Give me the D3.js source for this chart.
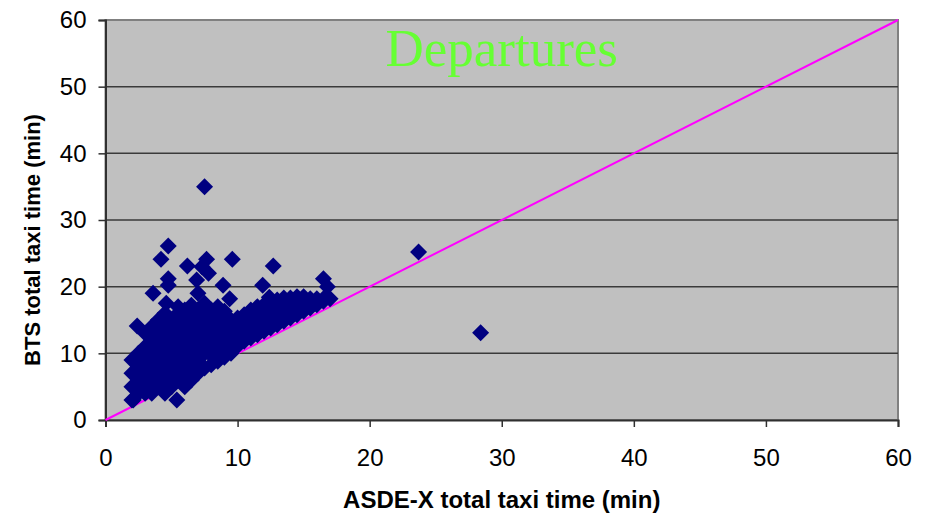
<!DOCTYPE html>
<html>
<head>
<meta charset="utf-8">
<script src="https://cdn.jsdelivr.net/npm/d3@7"></script>
<style>
  body { margin: 0; background: #fff; }
  text { font-family: "Liberation Sans", Arial, sans-serif; }
</style>
</head>
<body>
<svg></svg>
<script>
// tick values for both axes
const ticks = [0, 10, 20, 30, 40, 50, 60]

// the y = x reference line
const diagonal = [[0, 0], [60, 60]]

// dense band of departures [ASDE-X min, BTS min]
const band = [
  [2.0, 3], [2.0, 5], [2.0, 7], [2.0, 9],
  [2.5, 4], [2.5, 6], [2.5, 8], [2.5, 10],
  [3.0, 4], [3.0, 5], [3.0, 7], [3.0, 9], [3.0, 11], [3.0, 13],
  [3.5, 4], [3.5, 6], [3.5, 8], [3.5, 10], [3.5, 12], [3.5, 14],
  [4.0, 5], [4.0, 7], [4.0, 9], [4.0, 11], [4.0, 13], [4.0, 15],
  [4.5, 4], [4.5, 6], [4.5, 8], [4.5, 10], [4.5, 12], [4.5, 14], [4.5, 16],
  [5.0, 5], [5.0, 7], [5.0, 9], [5.0, 11], [5.0, 13], [5.0, 15],
  [5.5, 6], [5.5, 8], [5.5, 10], [5.5, 12], [5.5, 14], [5.5, 16], [5.5, 17],
  [6.0, 5], [6.0, 7], [6.0, 9], [6.0, 11], [6.0, 13], [6.0, 15], [6.0, 16.5],
  [6.5, 6], [6.5, 8], [6.5, 10], [6.5, 12], [6.5, 14], [6.5, 16],
  [7.0, 7], [7.0, 9], [7.0, 11], [7.0, 13], [7.0, 15], [7.0, 16.5],
  [7.5, 7.8], [7.5, 10], [7.5, 12], [7.5, 14], [7.5, 16], [7.5, 17.5],
  [8.0, 8.3], [8.0, 9.7], [8.0, 11], [8.0, 13], [8.0, 15], [8.0, 16.5],
  [8.5, 8.8], [8.5, 10], [8.5, 12], [8.5, 14], [8.5, 16], [8.5, 17],
  [9.0, 9.4], [9.0, 11], [9.0, 13], [9.0, 15], [9.0, 16.3],
  [9.5, 10], [9.5, 12], [9.5, 14], [9.5, 15],
  [10.0, 11.1], [10.0, 12.8], [10.0, 14.3], [10.0, 15.3],
  [10.5, 11.8], [10.5, 13.3], [10.5, 14.8], [10.5, 15.8],
  [11.0, 12.3], [11.0, 13.8], [11.0, 15.3], [11.0, 16.5],
  [11.5, 12.8], [11.5, 14.3], [11.5, 15.8], [11.5, 17],
  [12.0, 13.3], [12.0, 14.8], [12.0, 16.3], [12.0, 17.3],
  [12.5, 13.8], [12.5, 15.3], [12.5, 16.8], [12.5, 17.5],
  [13.0, 14.3], [13.0, 15.8], [13.0, 17.3], [13.0, 18],
  [13.5, 14.8], [13.5, 16.3], [13.5, 17.8], [13.5, 18.3],
  [14.0, 15.3], [14.0, 16.8], [14.0, 18.3],
  [14.5, 15.8], [14.5, 17.3], [14.5, 18.5],
  [15.0, 16.3], [15.0, 17.8], [15.0, 18.5],
  [15.5, 16.8], [15.5, 18.2],
  [16.0, 17.3], [16.0, 18.2],
  [16.5, 17.8], [16.5, 18.2],
  [17.0, 18.2]
]

// scattered points above / away from the band
const scattered = [
  [7.5, 35], [23.7, 25.2], [28.4, 13.1],
  [4.75, 26.1], [4.2, 24.1], [6.2, 23.1], [7.3, 23], [7.65, 24.1], [7.8, 22],
  [9.6, 24.1], [12.7, 23.1], [4.75, 21.2], [4.75, 20.2], [6.9, 21], [3.6, 19],
  [7.0, 19], [8.9, 20.2], [9.4, 18.2], [11.9, 20.2], [12.4, 18.4],
  [16.5, 21.2], [16.8, 20], [6.5, 17.2], [4.6, 17.5], [2.4, 14.1],
  [5.4, 3], [2.1, 3]
]

const points = band.concat(scattered)

const svg = d3.select("svg")
    .attr("width", 926)
    .attr("height", 517)

const plotLeft = 105.5, plotRight = 898, plotTop = 20, plotBottom = 420

const scaleX = d3.scaleLinear().domain([0, 60]).range([plotLeft, plotRight])
const scaleY = d3.scaleLinear().domain([0, 60]).range([plotBottom, plotTop])

// plot area
svg.append("rect")
    .attr("x", plotLeft)
    .attr("y", plotTop)
    .attr("width", plotRight - plotLeft)
    .attr("height", plotBottom - plotTop)
    .attr("fill", "#c0c0c0")
    .attr("stroke", "#808080")
    .attr("stroke-width", 2)

// horizontal gridlines
svg.selectAll("line.grid")
    .data(ticks.slice(1, -1))
    .enter()
    .append("line")
    .attr("class", "grid")
    .attr("x1", plotLeft)
    .attr("x2", plotRight)
    .attr("y1", d => scaleY(d))
    .attr("y2", d => scaleY(d))
    .attr("stroke", "#3a3a3a")
    .attr("stroke-width", 1.5)

// axes
const axisY = d3.axisLeft(scaleY).tickValues(ticks).tickSize(7).tickPadding(12)
const axisX = d3.axisBottom(scaleX).tickValues(ticks).tickSize(7).tickPadding(22)

const gy = svg.append("g")
    .attr("transform", `translate(${plotLeft}, 0)`)
    .call(axisY)
const gx = svg.append("g")
    .attr("transform", `translate(0, ${plotBottom})`)
    .call(axisX)

for (const g of [gx, gy]) {
    g.select(".domain").attr("stroke", "#303030").attr("stroke-width", 2)
    g.selectAll(".tick line").attr("stroke", "#303030").attr("stroke-width", 1.5)
    g.selectAll(".tick text")
        .attr("fill", "#000")
        .style("font-family", "'Liberation Sans', Arial, sans-serif")
        .style("font-size", "24px")
}
gx.selectAll(".tick text").attr("dy", "0.71em")

// y = x line
svg.append("path")
    .datum(diagonal)
    .attr("d", d3.line().x(d => scaleX(d[0])).y(d => scaleY(d[1])))
    .attr("stroke", "#ff00ff")
    .attr("stroke-width", 2)
    .attr("fill", "none")

// diamond markers
svg.selectAll("path.pt")
    .data(points)
    .enter()
    .append("path")
    .attr("class", "pt")
    .attr("transform", d => `translate(${scaleX(d[0])}, ${scaleY(d[1])})`)
    .attr("d", "M0,-8.5L8.5,0L0,8.5L-8.5,0Z")
    .attr("fill", "#000080")

// title inside the plot
svg.append("text")
    .attr("x", (plotLeft + plotRight) / 2)
    .attr("y", 66)
    .attr("text-anchor", "middle")
    .style("font-family", "'Liberation Serif', 'Times New Roman', serif")
    .style("font-size", "53px")
    .attr("fill", "#66ff33")
    .text("Departures")

// axis titles
svg.append("text")
    .attr("x", (plotLeft + plotRight) / 2)
    .attr("y", 508)
    .attr("text-anchor", "middle")
    .style("font-weight", "bold")
    .style("font-size", "24px")
    .text("ASDE-X total taxi time (min)")

svg.append("text")
    .attr("transform", "translate(40, 240) rotate(-90)")
    .attr("text-anchor", "middle")
    .style("font-weight", "bold")
    .style("font-size", "22px")
    .text("BTS total taxi time (min)")
</script>
</body>
</html>
